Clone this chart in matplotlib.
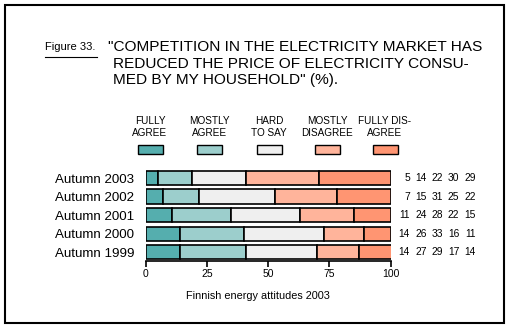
import matplotlib
matplotlib.use('Agg')
import matplotlib.pyplot as plt
from matplotlib.patches import Rectangle
from matplotlib.lines import Line2D
from matplotlib.transforms import blended_transform_factory
import numpy as np

# --- datos ---
years = ["Autumn 2003", "Autumn 2002", "Autumn 2001", "Autumn 2000", "Autumn 1999"]
categories = ["FULLY\nAGREE", "MOSTLY\nAGREE", "HARD\nTO SAY", "MOSTLY\nDISAGREE", "FULLY DIS-\nAGREE"]
fully_agree = [5, 7, 11, 14, 14]
mostly_agree = [14, 15, 24, 26, 27]
hard_to_say = [22, 31, 28, 33, 29]
mostly_disagree = [30, 25, 22, 16, 17]
fully_disagree = [29, 22, 15, 11, 14]
colors = ["#55AEAE", "#9CCECC", "#EFEFEF", "#FFB49B", "#FF9572"]

plt.rcParams['font.family'] = ['Liberation Sans', 'DejaVu Sans']

W, H = 509, 328
fig = plt.figure(figsize=(W / 100, H / 100), dpi=100)


def fx(px):
    return px / W


def fy(py):
    return 1 - py / H


# marco
fig.add_artist(Rectangle((fx(5), fy(323)), fx(504) - fx(5), fy(5) - fy(323),
                         transform=fig.transFigure, fill=False, edgecolor='black', linewidth=1.5))

# título
fig.text(fx(45), fy(47.5), "Figure 33.", fontsize=8, va='center', ha='left')
fig.add_artist(Line2D([fx(45), fx(97)], [fy(56.5), fy(56.5)], transform=fig.transFigure,
                      color='black', linewidth=0.8))
title_lines = ['"COMPETITION IN THE ELECTRICITY MARKET HAS',
               'REDUCED THE PRICE OF ELECTRICITY CONSU-',
               'MED BY MY HOUSEHOLD" (%).']
title_x = [108, 113, 113]
title_y = [47, 63.5, 80]
for t, x, y in zip(title_lines, title_x, title_y):
    fig.text(fx(x), fy(y), t, fontsize=11.1, va='center', ha='left')

# leyenda
legend_x = [150, 209.5, 269, 327, 385]
for lab, x, c in zip(categories, legend_x, colors):
    fig.text(fx(x), fy(127), lab, fontsize=7.2, ha='center', va='center', linespacing=1.35)
    fig.add_artist(Rectangle((fx(x - 12.5), fy(154)), 25 / W, 9 / H, transform=fig.transFigure,
                             facecolor=c, edgecolor='black', linewidth=1.0))

# barras
ax = fig.add_axes([fx(145.5), fy(261), fx(390.5) - fx(145.5), fy(168.75) - fy(261)])
series = [fully_agree, mostly_agree, hard_to_say, mostly_disagree, fully_disagree]
ypos = np.arange(len(years))[::-1]
left = np.zeros(len(years))
for vals, c in zip(series, colors):
    ax.barh(ypos, vals, left=left, height=0.757, color=c, edgecolor='black', linewidth=1.2)
    left += np.array(vals)

ax.set_xlim(0, 100)
ax.set_ylim(-0.486, 4.5)
ax.set_yticks(ypos)
ax.set_yticklabels(years, fontsize=9.6)
ax.tick_params(axis='y', length=0, pad=8)
ax.set_xticks([0, 25, 50, 75, 100])
ax.tick_params(axis='x', labelsize=7.5, length=4, width=1.2, pad=2)
for s in ['top', 'right', 'left']:
    ax.spines[s].set_visible(False)
ax.spines['bottom'].set_linewidth(1.2)

# números a la derecha
col_right = [410, 427, 443, 459.5, 476]
tr = blended_transform_factory(fig.transFigure, ax.transData)
for i, y in enumerate(ypos):
    for vals, cx in zip(series, col_right):
        ax.text(fx(cx), y, str(vals[i]), fontsize=7.4, ha='right', va='center',
                transform=tr, clip_on=False)

fig.text(fx(258), fy(296), "Finnish energy attitudes 2003", fontsize=7.8, ha='center', va='center')

plt.savefig("out.png", dpi=100)
